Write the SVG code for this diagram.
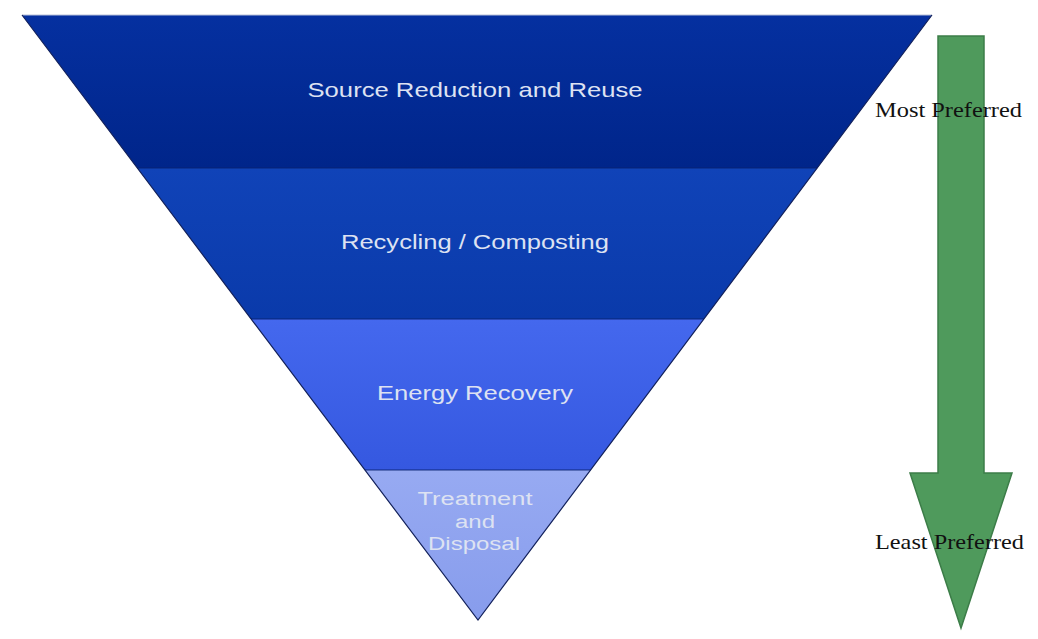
<svg xmlns="http://www.w3.org/2000/svg" width="1038" height="639" viewBox="0 0 1038 639">
<style>
.band{stroke:none}
.lbl{font-family:"Liberation Sans",Arial,sans-serif;fill:#dde2f2;text-anchor:middle}
.side{font-family:"Liberation Serif","Times New Roman",serif;font-size:22px;fill:#111}
.sep{stroke:#0a2370;stroke-width:1.5;opacity:0.6}
</style>
<defs>
<linearGradient id="g1" x1="0" y1="0" x2="0" y2="1">
<stop offset="0" stop-color="#0530a0"/>
<stop offset="1" stop-color="#00258a"/>
</linearGradient>
<linearGradient id="g2" x1="0" y1="0" x2="0" y2="1">
<stop offset="0" stop-color="#1043b8"/>
<stop offset="1" stop-color="#0a3aaa"/>
</linearGradient>
<linearGradient id="g3" x1="0" y1="0" x2="0" y2="1">
<stop offset="0" stop-color="#4468ee"/>
<stop offset="1" stop-color="#3558e0"/>
</linearGradient>
<linearGradient id="g4" x1="0" y1="0" x2="0" y2="1">
<stop offset="0" stop-color="#97aaf2"/>
<stop offset="1" stop-color="#879cec"/>
</linearGradient>
</defs>
<rect width="1038" height="639" fill="#ffffff"/>
<g id="band1">
<polygon class="band" points="22,15 932,15 817.2,168 137.3,168" fill="url(#g1)"/>
<line x1="22" y1="15" x2="932" y2="15" stroke="#b8c0d8" stroke-width="1"/>
<text class="lbl" x="475" y="97" font-size="21" textLength="335" lengthAdjust="spacingAndGlyphs">Source Reduction and Reuse</text>
</g>
<g id="band2">
<polygon class="band" points="137.3,168 817.2,168 703.9,319 251.1,319" fill="url(#g2)"/>
<text class="lbl" x="475" y="249" font-size="21" textLength="268" lengthAdjust="spacingAndGlyphs">Recycling / Composting</text>
</g>
<g id="band3">
<polygon class="band" points="251.1,319 703.9,319 590.6,470 364.9,470" fill="url(#g3)"/>
<text class="lbl" x="475" y="400" font-size="21" textLength="196" lengthAdjust="spacingAndGlyphs">Energy Recovery</text>
</g>
<g id="band4">
<polygon class="band" points="364.9,470 590.6,470 478,620" fill="url(#g4)"/>
<text class="lbl" x="475" y="505" font-size="18" textLength="115" lengthAdjust="spacingAndGlyphs" fill="#d6ddf8">Treatment</text>
<text class="lbl" x="475" y="528" font-size="18" textLength="40" lengthAdjust="spacingAndGlyphs">and</text>
<text class="lbl" x="474" y="550" font-size="18" textLength="92" lengthAdjust="spacingAndGlyphs">Disposal</text>
</g>
<g id="outline" fill="none" stroke="#1a2a6a" stroke-width="1">
<line class="sep" x1="137.3" y1="168" x2="817.2" y2="168"/>
<line class="sep" x1="251.1" y1="319" x2="703.9" y2="319"/>
<line class="sep" x1="364.9" y1="470" x2="590.6" y2="470"/>
<polyline points="22,15 478,620 932,15" stroke="#12205a" stroke-width="1.2"/>
</g>
<g id="arrow">
<polygon points="938,36 984,36 984,473 1012,473 961,628 910,473 938,473" fill="#4f9a5c" stroke="#3c7d48" stroke-width="1.5"/>
</g>
<g id="labels">
<text class="side" x="875" y="117" textLength="147" lengthAdjust="spacingAndGlyphs">Most Preferred</text>
<text class="side" x="875" y="549" textLength="149" lengthAdjust="spacingAndGlyphs">Least Preferred</text>
</g>
</svg>
